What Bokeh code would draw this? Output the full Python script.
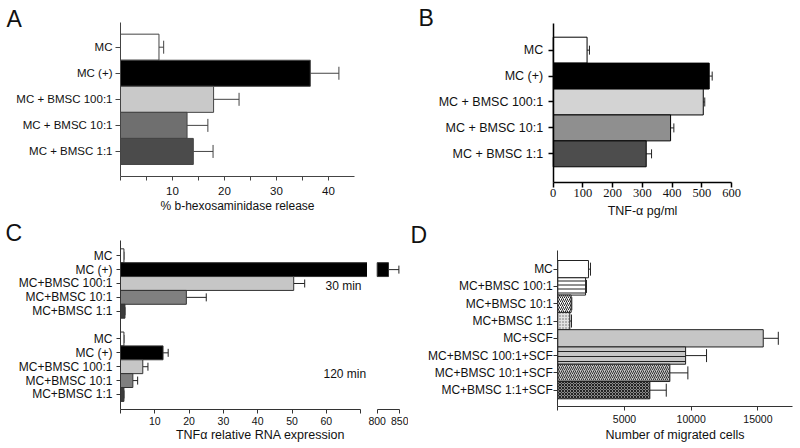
import math
from bokeh.plotting import figure
from bokeh.layouts import row, column
from bokeh.models import FixedTicker, Label, ColumnDataSource, Range1d
from bokeh.embed import file_html
from bokeh.resources import INLINE

SANS = "Liberation Sans"
SERIF = "Liberation Serif"

# ---------------- data ----------------
# Panel A: % b-hexosaminidase release
a_labels = ["MC", "MC (+)", "MC + BMSC 100:1", "MC + BMSC 10:1", "MC + BMSC 1:1"]
a_values = [7.4, 36.5, 17.9, 12.8, 14.0]
a_errors = [0.9, 5.5, 4.9, 4.0, 3.8]
a_xticks = [10, 20, 30, 40]
a_xminor = [0, 5, 15, 25, 35]
a_xmax = 45

# Panel B: TNF-alpha pg/ml
b_labels = ["MC", "MC (+)", "MC + BMSC 100:1", "MC + BMSC 10:1", "MC + BMSC 1:1"]
b_values = [114, 525, 505, 395, 313]
b_errors = [8, 10, 5, 11, 18]
b_xticks = [0, 100, 200, 300, 400, 500, 600]

# Panel C: TNFa relative RNA expression (broken axis)
c_labels = ["MC", "MC (+)", "MC+BMSC 100:1", "MC+BMSC 10:1", "MC+BMSC 1:1"]
c_30 = [1.0, 825.0, 50.5, 19.2, 1.3]
c_30_err = [0.0, 23.0, 3.2, 5.8, 0.0]
c_120 = [1.0, 12.4, 6.5, 3.6, 1.0]
c_120_err = [0.0, 1.5, 1.5, 1.4, 0.0]
c_groups = ["30 min", "120 min"]
c_xticks = [10, 20, 30, 40, 50, 60]
c_xminor = [0, 70]
c_break_ticks = [800, 850]

# Panel D: number of migrated cells
d_labels = ["MC", "MC+BMSC 100:1", "MC+BMSC 10:1", "MC+BMSC 1:1", "MC+SCF",
            "MC+BMSC 100:1+SCF", "MC+BMSC 10:1+SCF", "MC+BMSC 1:1+SCF"]
d_values = [2300, 2080, 1000, 900, 15400, 9580, 8400, 6900]
d_errors = [150, 70, 50, 125, 1130, 1570, 1350, 1230]
d_xticks = [5000, 10000, 15000]
d_xminor = [0]
d_xmax = 17580

# ---------------- styles ----------------
a_colors = ["#ffffff", "#000000", "#c9c9c9", "#6f6f6f", "#4b4b4b"]
b_colors = ["#ffffff", "#000000", "#d3d3d3", "#8f8f8f", "#4d4d4d"]
c_colors = ["#ffffff", "#000000", "#c6c6c6", "#808080", "#3c3c3c"]
d_fill = ["#ffffff", "#ffffff", "#ffffff", "#e2e2e2", "#c6c6c6", "#c6c6c6", "#c6c6c6", "#8a8a8a"]
d_hatch = [" ", "-", "/", ".", " ", "-", "/", "x"]
d_hscale = [4, 4, 4, 3, 4, 5, 4, 3]
d_hcolor = ["#222222", "#222222", "#222222", "#666666", "#222222", "#222222", "#333333", "#222222"]


# ---------------- layout helpers (page pixels -> data ranges) ----------------
class Frame:
    """Canvas occupying a page rect; linear maps given by a reference pixel and px per unit."""
    def __init__(self, left, top, right, bottom, px0, xv0, xppu, py0, yv0, yppu):
        self.l, self.t, self.r, self.b = left, top, right, bottom
        self.px0, self.xv0, self.xppu = px0, xv0, xppu
        self.py0, self.yv0, self.yppu = py0, yv0, yppu

    def xv(self, px):
        return self.xv0 + (px - self.px0) / self.xppu

    def yv(self, py):
        return self.yv0 - (py - self.py0) / self.yppu

    def xrange(self):
        return Range1d(self.xv(self.l), self.xv(self.r))

    def yrange(self):
        return Range1d(self.yv(self.b), self.yv(self.t))

    def screen(self, px, py):
        return px - self.l, self.b - py


def make_fig(fr, y_range=None):
    p = figure(width=int(round(fr.r - fr.l)), height=int(round(fr.b - fr.t)),
               x_range=fr.xrange(), y_range=y_range or fr.yrange(),
               output_backend="svg", toolbar_location=None,
               min_border_left=0, min_border_right=0, min_border_top=0, min_border_bottom=0)
    p.outline_line_color = None
    p.grid.visible = False
    p.background_fill_color = "white"
    p.border_fill_color = "white"
    return p


def style_axes(p, axis_color, tick_font, tick_size, cat_size, lw=1):
    for ax in (p.xaxis[0], p.yaxis[0]):
        ax.axis_line_color = axis_color
        ax.axis_line_width = lw
        ax.major_tick_line_color = axis_color
        ax.minor_tick_line_color = axis_color
        ax.major_tick_line_width = lw
        ax.minor_tick_line_width = lw
        ax.major_tick_in = 0
        ax.minor_tick_in = 0
        ax.major_label_text_color = "#111111"
        ax.axis_label_text_color = "#111111"
        ax.axis_label_text_font = SANS
        ax.axis_label_text_font_style = "normal"
    p.xaxis.major_label_text_font = tick_font
    p.xaxis.major_label_text_font_size = tick_size
    p.yaxis.major_label_text_font = SANS
    p.yaxis.major_label_text_font_size = cat_size
    p.yaxis.minor_tick_line_color = None


def place_axes(p, fr, x_bounds, ax_top_px, ax_bot_px, show_y=True):
    y_lo, y_hi = fr.yv(ax_bot_px), fr.yv(ax_top_px)
    p.xaxis.fixed_location = y_lo
    p.xaxis.bounds = x_bounds
    p.yaxis.fixed_location = x_bounds[0]
    p.yaxis.bounds = (y_lo, y_hi)
    if not show_y:
        p.yaxis.visible = False


def add_bars(p, pos, vals, errs, colors, line_color, err_color, cap, left=0, extra=None):
    data = dict(y=pos, v=vals, hi=[v + e for v, e in zip(vals, errs)], c=colors)
    if extra:
        data.update(extra)
    src = ColumnDataSource(data)
    p.segment(x0="v", x1="hi", y0="y", y1="y", source=src, line_color=err_color, line_width=1)
    p.scatter(x="hi", y="y", marker="dash", angle=math.pi / 2, size=cap, source=src,
              line_color=err_color, line_width=1)
    kw = {}
    if extra:
        kw = dict(hatch_pattern="hp", hatch_scale="hs", hatch_color="hc", hatch_weight=1)
    p.hbar(y="y", left=left, right="v", height=1.0, source=src, fill_color="c",
           line_color=line_color, line_width=1, **kw)


def panel_letter(p, fr, text, px, py_mid):
    sx, sy = fr.screen(px, py_mid)
    p.add_layout(Label(x=sx, y=sy, x_units="screen", y_units="screen", text=text,
                       text_font=SANS, text_font_size="23px", text_color="#111111",
                       text_align="left", text_baseline="middle"))


def cat_axis(p, pos, labels, tick_out, standoff):
    p.yaxis.ticker = FixedTicker(ticks=pos)
    p.yaxis.major_label_overrides = {pp: lab for pp, lab in zip(pos, labels)}
    p.yaxis.major_tick_out = tick_out
    p.yaxis.major_label_standoff = standoff


# ---------------- Panel A ----------------
na = len(a_labels)
a_pos = [na - 1 - i for i in range(na)]
frA = Frame(0, 0, 400, 218, 120, 0, 5.2, 46.7, na - 1, 26.06)
pA = make_fig(frA)
add_bars(pA, a_pos, a_values, a_errors, a_colors, "#444444", "#444444", 13)
style_axes(pA, "#444444", SANS, "11.5px", "11.5px")
place_axes(pA, frA, (0, a_xmax), 22, 176)
pA.xaxis.ticker = FixedTicker(ticks=a_xticks, minor_ticks=a_xminor)
pA.xaxis.major_tick_out = 4
pA.xaxis.minor_tick_out = 4
pA.xaxis.major_label_standoff = 6
pA.xaxis.axis_label = "% b-hexosaminidase release"
pA.xaxis.axis_label_text_font_size = "12px"
pA.xaxis.axis_label_standoff = 1
cat_axis(pA, a_pos, a_labels, 5, 3)
panel_letter(pA, frA, "A", 6, 18)

# ---------------- Panel B ----------------
nb = len(b_labels)
b_pos = [nb - 1 - i for i in range(nb)]
frB = Frame(400, 0, 800, 218, 552.7, 0, 178.3 / 600, 49.65, nb - 1, 25.92)
pB = make_fig(frB)
add_bars(pB, b_pos, b_values, b_errors, b_colors, "#000000", "#222222", 9)
style_axes(pB, "#000000", SERIF, "12.5px", "12.5px", lw=1.5)
place_axes(pB, frB, (0, b_xticks[-1]), 23.3, 181.7)
pB.xaxis.ticker = FixedTicker(ticks=b_xticks)
pB.xaxis.major_tick_out = 5
pB.xaxis.major_label_standoff = 2
pB.xaxis.axis_label = "TNF-\u03b1 pg/ml"
pB.xaxis.axis_label_text_font_size = "12.5px"
pB.xaxis.axis_label_standoff = 3
cat_axis(pB, b_pos, b_labels, 5, 5)
panel_letter(pB, frB, "B", 418, 17.5)

# ---------------- Panel C ----------------
nc = len(c_labels)
c_pos30 = [2 * nc - i for i in range(nc)]
c_pos120 = [nc - 1 - i for i in range(nc)]
frC1 = Frame(0, 218, 367, 448, 120, 0, 3.43, 255.25, 2 * nc, 13.87)
frC2 = Frame(367, 218, 408, 448, 376.7, c_break_ticks[0], 22.6 / (c_break_ticks[1] - c_break_ticks[0]),
             255.25, 2 * nc, 13.87)
pC1 = make_fig(frC1)
pC2 = make_fig(frC2, y_range=pC1.y_range)

add_bars(pC1, c_pos30, c_30, c_30_err, c_colors, "#333333", "#222222", 8)
add_bars(pC1, c_pos120, c_120, c_120_err, c_colors, "#333333", "#222222", 8)
# broken-axis segment: only bars that reach past the break start
brk = c_break_ticks[0]
sel = [i for i, v in enumerate(c_30) if v > brk]
add_bars(pC2, [c_pos30[i] for i in sel], [c_30[i] for i in sel], [c_30_err[i] for i in sel],
         [c_colors[i] for i in sel], "#333333", "#222222", 8, left=brk)

for pc, fr, bounds in ((pC1, frC1, (0, c_xminor[-1])), (pC2, frC2, tuple(c_break_ticks))):
    style_axes(pc, "#333333", SANS, "10.5px", "12px")
    place_axes(pc, fr, bounds, 240, 409, show_y=(pc is pC1))
    pc.xaxis.major_tick_out = 4
    pc.xaxis.minor_tick_out = 4
    pc.xaxis.major_label_standoff = 3
pC1.xaxis.ticker = FixedTicker(ticks=c_xticks, minor_ticks=c_xminor)
pC2.xaxis.ticker = FixedTicker(ticks=c_break_ticks, minor_ticks=[])
c_all_pos = c_pos30 + c_pos120
cat_axis(pC1, c_all_pos, c_labels + c_labels, 4, 4)

pC1.add_layout(Label(x=frC1.xv(325), y=frC1.yv(285.7), text=c_groups[0], text_font=SANS,
                     text_font_size="12px", text_color="#111111", text_baseline="middle"))
pC1.add_layout(Label(x=frC1.xv(323), y=frC1.yv(373.3), text=c_groups[1], text_font=SANS,
                     text_font_size="12px", text_color="#111111", text_baseline="middle"))
lx, ly = frC1.screen(260, 434.5)
pC1.add_layout(Label(x=lx, y=ly, x_units="screen", y_units="screen",
                     text="TNF\u03b1 relative RNA expression", text_font=SANS,
                     text_font_size="12.5px", text_color="#111111", text_align="center",
                     text_baseline="middle"))
panel_letter(pC1, frC1, "C", 5, 232)

# ---------------- Panel D ----------------
nd = len(d_labels)
d_pos = [nd - 1 - i for i in range(nd)]
frD = Frame(408, 218, 800, 448, 557.3, 0, 66.7 / 5000, 268.65, nd - 1, 17.29)
pD = make_fig(frD)
add_bars(pD, d_pos, d_values, d_errors, d_fill, "#222222", "#222222", 13,
         extra=dict(hp=d_hatch, hs=d_hscale, hc=d_hcolor))
style_axes(pD, "#333333", SANS, "10.5px", "12px")
place_axes(pD, frD, (0, d_xmax), 250, 405.7)
pD.xaxis.ticker = FixedTicker(ticks=d_xticks, minor_ticks=d_xminor)
pD.xaxis.major_tick_out = 4
pD.xaxis.minor_tick_out = 4
pD.xaxis.major_label_standoff = 5
pD.xaxis.axis_label = "Number of migrated cells"
pD.xaxis.axis_label_text_font_size = "12.5px"
pD.xaxis.axis_label_standoff = 1
cat_axis(pD, d_pos, d_labels, 4, 1)
panel_letter(pD, frD, "D", 410, 234.5)

layout = column(row(pA, pB), row(pC1, pC2, pD))
open("out.html", "w").write(file_html(layout, INLINE))
